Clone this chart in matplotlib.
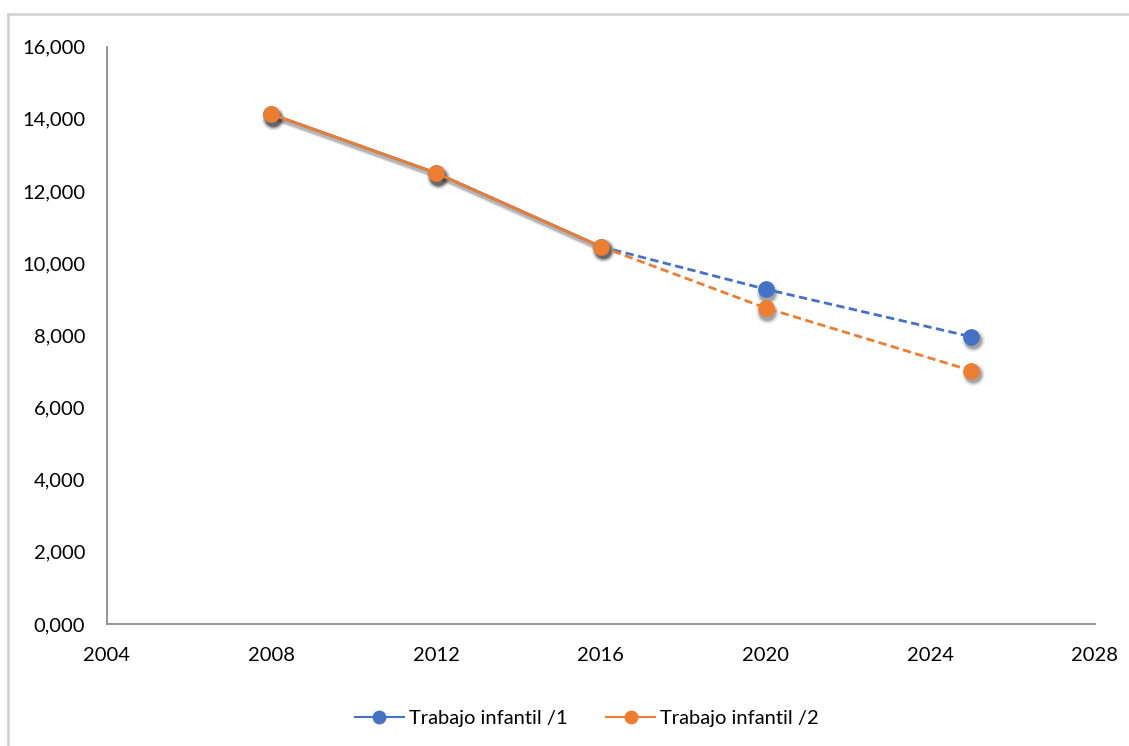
import matplotlib
matplotlib.use("Agg")
import matplotlib.pyplot as plt
import matplotlib.transforms as mtransforms
from matplotlib.lines import Line2D

# Child labour estimates (thousands)
years = [2008, 2012, 2016, 2020, 2025]
serie_1 = [14.13, 12.50, 10.46, 9.28, 7.96]
serie_2 = [14.13, 12.50, 10.46, 8.76, 7.02]
labels = ["Trabajo infantil /1", "Trabajo infantil /2"]
colors = ["#4472C4", "#ED7D31"]
n_hist = 3  # observed points; the rest are projections

x_ticks = [2004, 2008, 2012, 2016, 2020, 2024, 2028]
y_ticks = [0, 2, 4, 6, 8, 10, 12, 14, 16]

plt.rcParams["font.family"] = ["Lato", "DejaVu Sans"]

W, H = 1129, 746
fig = plt.figure(figsize=(W / 100, H / 100), dpi=100)
ax = fig.add_axes([106.7 / W, 1 - 624 / H, (1095 - 106.7) / W, (624 - 46.7) / H])

# soft drop shadow: a few stacked translucent copies shifted down-right
def shadow_tr(dx, dy):
    return ax.transData + mtransforms.ScaledTranslation(dx / 72, dy / 72, fig.dpi_scale_trans)

for vals in [serie_1, serie_2]:
    for grow, a in [(5, 0.05), (3, 0.08), (1.5, 0.12), (0, 0.16)]:
        ax.plot(years, vals, ls="none", marker="o", ms=12 + grow, mew=0,
                color="black", alpha=a, transform=shadow_tr(1.2, -2.6), zorder=2)
    for lw, a in [(5, 0.06), (3, 0.1)]:
        ax.plot(years[:n_hist], vals[:n_hist], color="black", lw=lw, alpha=a,
                transform=shadow_tr(1.0, -2.2), zorder=2, solid_capstyle="round")

for vals, col in zip([serie_1, serie_2], colors):
    ax.plot(years[:n_hist], vals[:n_hist], color=col, lw=2.0, zorder=3)
    ax.plot(years[n_hist - 1:], vals[n_hist - 1:], color=col, lw=2.0, ls=(0, (3, 1.6)), zorder=3)
    ax.plot(years, vals, ls="none", marker="o", ms=12, mew=0, color=col, zorder=4)

ax.set_xlim(2004, 2028)
ax.set_ylim(0, 16)
ax.set_xticks(x_ticks)
ax.set_xticklabels([str(v) for v in x_ticks])
ax.set_yticks(y_ticks)
ax.set_yticklabels([f"{v:.3f}".replace(".", ",") for v in y_ticks])
ax.tick_params(length=0, labelsize=14.5, colors="black")
ax.tick_params(axis="x", pad=16.5)
ax.tick_params(axis="y", pad=15.5)
for s in ["top", "right"]:
    ax.spines[s].set_visible(False)
for s in ["left", "bottom"]:
    ax.spines[s].set_color("#8c8c8c")
    ax.spines[s].set_linewidth(1.3)

handles = [Line2D([], [], color=c, lw=1.5, marker="o", ms=10, mew=0) for c in colors]
fig.legend(handles, labels, loc="center", bbox_to_anchor=(587 / W, 1 - 718 / H),
           ncol=2, frameon=False, fontsize=14.5, handlelength=2.45, handletextpad=0.25,
           columnspacing=1.9)

# chart-area border (top and left edges)
fig.add_artist(Line2D([8 / W, 1], [1 - 14 / H, 1 - 14 / H], transform=fig.transFigure,
                      color="#d0d0d0", lw=1.8))
fig.add_artist(Line2D([8 / W, 8 / W], [0, 1 - 14 / H], transform=fig.transFigure,
                      color="#d0d0d0", lw=1.8))

fig.savefig("out.png", dpi=100, facecolor="white")
